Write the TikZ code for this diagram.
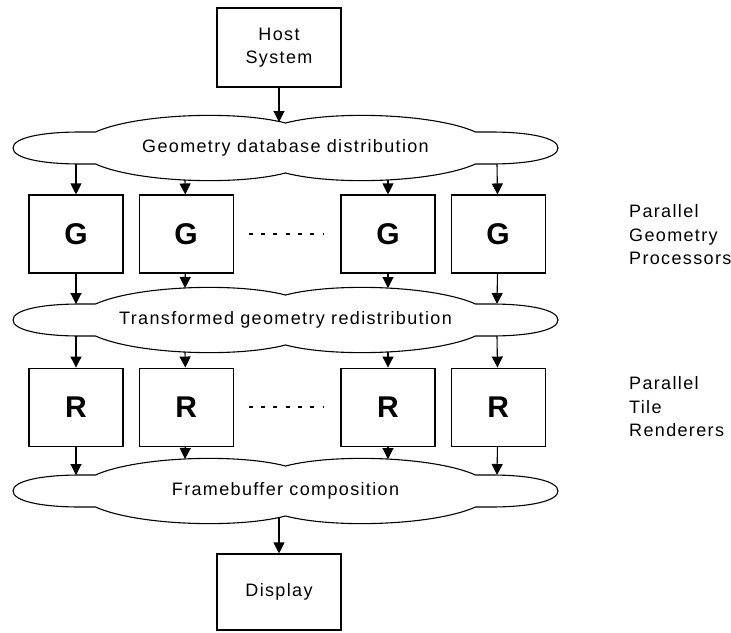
\documentclass[tikz,border=0pt]{standalone}
\usepackage{fontspec}
\setmainfont{Liberation Sans}[LetterSpace=7.5]
\usetikzlibrary{positioning,arrows.meta}
\tikzset{box/.style={draw, line width=1.1pt, inner sep=0pt, minimum width=94pt, minimum height=78pt, font=\fontsize{30}{30}\selectfont\bfseries}}
\tikzset{sbox/.style={draw, line width=1.1pt, inner sep=0pt, minimum width=124pt, align=center}}

\begin{document}
\begin{tikzpicture}[x=1pt, y=-1pt, font=\fontsize{18}{23.5}\selectfont,
    arr/.style={line width=1.1pt, -{Triangle[length=11pt,width=11pt]}},
    dots/.style={line width=1.4pt, dash pattern=on 4pt off 8.33pt}]
    \useasboundingbox (0,0) rectangle (731,632);

    \node[sbox, minimum height=79pt] (host) at (279,47.5) {Host\\System};

    % the three distribution busses
    \foreach \cy/\nm/\txt in {148/geo/Geometry database distribution,
                             320/tra/Transformed geometry redistribution,
                             491/fra/Framebuffer composition}{
      \begin{scope}[shift={(285.5,\cy)}]
        \draw[line width=1.1pt] (-272.5,0) .. controls (-272.5,-10) and (-245,-16) .. (-205,-16) -- (-190,-16)
          .. controls (-150,-34) and (-50,-38) .. (0,-25)
          .. controls (50,-38) and (150,-34) .. (190,-16) -- (205,-16)
          .. controls (245,-16) and (272.5,-10) .. (272.5,0)
          .. controls (272.5,10) and (245,16) .. (205,16) -- (190,16)
          .. controls (150,34) and (50,38) .. (0,25)
          .. controls (-50,38) and (-150,34) .. (-190,16) -- (-205,16)
          .. controls (-245,16) and (-272.5,10) .. (-272.5,0) -- cycle;
        \node (\nm) at (0,0) {\txt};
        \coordinate (\nm-c) at (-6.5,-26);
        \coordinate (\nm-b) at (-6.5,26);
        \coordinate (\nm-n1) at (-209.5,-16);
        \coordinate (\nm-n2) at (-100.5,-32);
        \coordinate (\nm-n3) at (102.5,-32);
        \coordinate (\nm-n4) at (211.5,-16);
        \coordinate (\nm-s1) at (-209.5,16);
        \coordinate (\nm-s2) at (-100.5,32);
        \coordinate (\nm-s3) at (102.5,32);
        \coordinate (\nm-s4) at (211.5,16);
      \end{scope}
    }

    \node[box] (g1) at (76,234) {G};
    \node[box, right=15pt of g1] (g2) {G};
    \node[box] (g3) at (388,234) {G};
    \node[box, right=15pt of g3] (g4) {G};

    \node[box, below=94pt of g1] (r1) {R};
    \node[box, below=94pt of g2] (r2) {R};
    \node[box, below=94pt of g3] (r3) {R};
    \node[box, below=94pt of g4] (r4) {R};

    \draw[dots] ([xshift=15pt]g2.east) -- ([xshift=-16pt]g3.west);
    \draw[dots] ([xshift=15pt]r2.east) -- ([xshift=-16pt]r3.west);

    \node[sbox, minimum height=76pt] (display) at (279,592) {Display};

    \node[anchor=west, align=left, inner sep=0pt] (glabel) at (629,235) {Parallel\\Geometry\\Processors};
    \node[anchor=west, align=left, inner sep=0pt] (rlabel) at (629,407) {Parallel\\Tile\\Renderers};

    \draw[arr] (host) -- (geo-c);
    \foreach \i in {1,...,4}{
      \draw[arr] (geo-s\i) -- (g\i);
      \draw[arr] (g\i) -- (tra-n\i);
      \draw[arr] (tra-s\i) -- (r\i);
      \draw[arr] (r\i) -- (fra-n\i);
    }
    \draw[arr] (fra-b) -- (display);
\end{tikzpicture}
\end{document}
